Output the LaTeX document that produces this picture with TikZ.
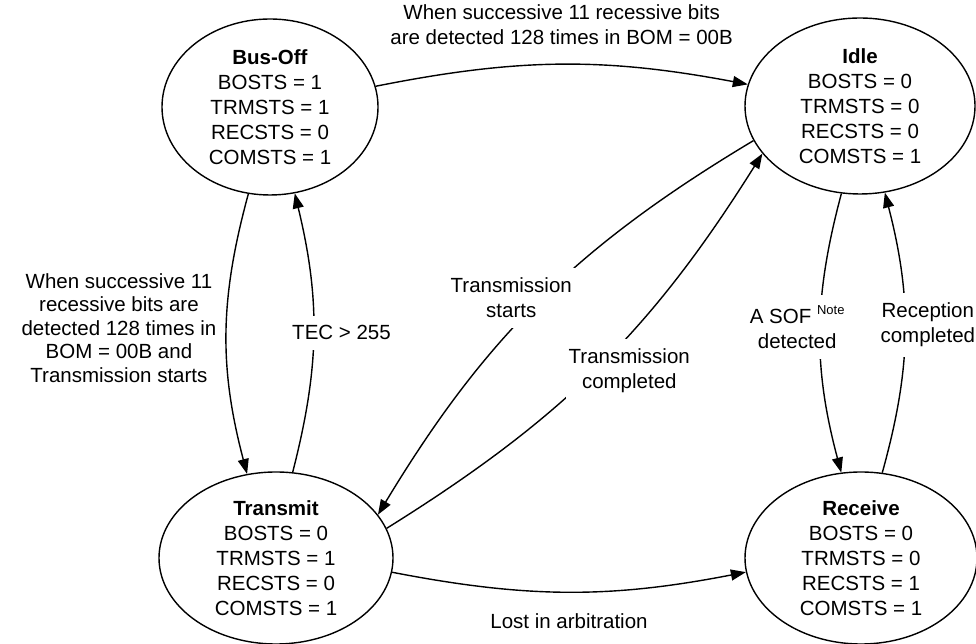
\documentclass[tikz,border=0pt]{standalone}
\usepackage{fontspec}
\setmainfont{Liberation Sans}
\usetikzlibrary{arrows.meta,positioning,shapes.geometric}

\newcommand\diafont{\fontsize{20.5}{25}\selectfont}
\newcommand\notefont{\fontsize{13}{13}\selectfont}

\begin{document}
\begin{tikzpicture}[
  x=1pt,y=1pt,
  font=\diafont,
  state/.style={draw,ellipse,line width=1.4pt,inner sep=0pt,align=center,minimum height=176pt},
  trans/.style={line width=1.4pt,-{Triangle[length=15pt,width=11pt]}},
  lbl/.style={align=center},
  cut/.style={lbl,fill=white,inner xsep=3pt,inner ysep=10pt}
]
  \useasboundingbox (0,0) rectangle (976,644);

  % states
  \node[state,minimum width=216pt] (busoff) at (270,537) {\textbf{Bus-Off}\\BOSTS = 1\\TRMSTS = 1\\RECSTS = 0\\COMSTS = 1};
  \node[state,minimum width=230pt] (idle) at (860,538) {\textbf{Idle}\\BOSTS = 0\\TRMSTS = 0\\RECSTS = 0\\COMSTS = 1};
  \node[state,minimum width=234pt,minimum height=172pt] (transmit) at (276,86) {\textbf{Transmit}\\BOSTS = 0\\TRMSTS = 1\\RECSTS = 0\\COMSTS = 1};
  \node[state,minimum width=232pt,minimum height=172pt] (receive) at (861,86) {\textbf{Receive}\\BOSTS = 0\\TRMSTS = 0\\RECSTS = 1\\COMSTS = 1};

  % transitions
  \draw[trans] (busoff) to[bend left=11] node[lbl,above=16pt] {When successive 11 recessive bits\\are detected 128 times in BOM = 00B} (idle);
  \draw[trans] (busoff.-104) to[bend right=15] node[lbl,left=6pt,yshift=6pt,font=\fontsize{20.5}{23.5}\selectfont] {When successive 11\\recessive bits are\\detected 128 times in\\BOM = 00B and\\Transmission starts} (transmit.109);
  \draw[trans] (transmit.79) to[bend right=14] node[cut,xshift=28pt] {TEC > 255} (busoff.-74);
  \draw[trans] (idle.198) to[bend right=14] node[cut,xshift=-28pt,yshift=3pt] {Transmission\\starts} (transmit.23);
  \draw[trans] (transmit.15) to[bend right=13] node[cut,xshift=30pt,yshift=-5pt] {Transmission\\completed} (idle.206);
  \draw[trans] (transmit.-7) to[bend right=11] node[lbl,below=17.5pt] {Lost in arbitration} (receive.187);
  \draw[trans] (idle.258) to[bend right=15] node[cut,xshift=-23pt,yshift=6pt] {A SOF \raisebox{9pt}{\notefont Note}\\detected} (receive.103);
  \draw[trans] (receive.76) to[bend right=15] node[cut,xshift=23pt,yshift=8pt] {Reception\\completed} (idle.-74);
\end{tikzpicture}
\end{document}
